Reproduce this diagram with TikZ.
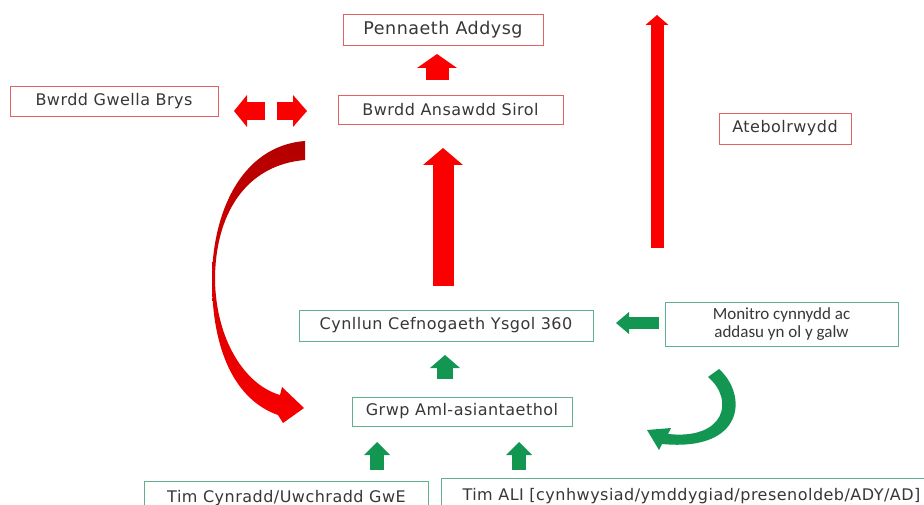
\documentclass[tikz,border=0pt]{standalone}
\usepackage{fontspec}
\setmainfont[LetterSpace=3]{DejaVu Sans}
\newfontfamily\calfont{Carlito}
\usetikzlibrary{arrows.meta}
\definecolor{boxred}{RGB}{226,98,98}
\definecolor{boxgreen}{RGB}{96,176,140}
\definecolor{arrred}{RGB}{250,0,0}
\definecolor{arrgreen}{RGB}{18,150,82}
\definecolor{txt}{RGB}{55,55,55}

\begin{document}
\begin{tikzpicture}[x=1pt,y=-1pt,
  box/.style={rectangle, draw, line width=0.9pt, fill=white, text=txt,
          inner sep=0pt, font=\fontsize{16}{18}\selectfont},
  redbox/.style={box, draw=boxred},
  greenbox/.style={box, draw=boxgreen},
  blk/.style n args={3}{line width=#1,
          -{Triangle[length=#2, width=#3, line width=0pt]}}]
\useasboundingbox (0,0) rectangle (924,505);

% red boxes
\node[redbox, minimum width=200, minimum height=31,
          font=\fontsize{17.5}{18}\selectfont] (pen) at (443,29.5) {Pennaeth Addysg};
\node[redbox, minimum width=208, minimum height=30] (gwella) at (114,101) {Bwrdd Gwella Brys};
\node[redbox, minimum width=225, minimum height=29] (ansawdd) at (450.5,109.5) {Bwrdd Ansawdd Sirol};
\node[redbox, minimum width=132, minimum height=31] (ateb) at (785,128.5) {Atebolrwydd};

% green boxes
\node[greenbox, minimum width=294, minimum height=31] (cynllun) at (446,325.5) {Cynllun Cefnogaeth Ysgol 360};
\node[greenbox, minimum width=233, minimum height=44, align=center,
          font=\calfont\fontsize{17}{18}\selectfont] (monitro) at (781.5,324)
          {Monitro cynnydd ac\\addasu yn ol y galw};
\node[greenbox, minimum width=220, minimum height=29] (grwp) at (462,411.5) {Grwp Aml-asiantaethol};
\node[greenbox, anchor=north west, minimum width=284, minimum height=34] (cynradd)
          at (144,481) {Tim Cynradd/Uwchradd GwE};
\node[greenbox, anchor=north west, minimum width=500, minimum height=36] (ali)
          at (441,478) {Tim ALI [cynhwysiad/ymddygiad/presenoldeb/ADY/AD]};

% ends of the block arrows
\coordinate (penS) at (437,80);   \coordinate (penE) at (437,54);
\coordinate (gwS) at (265,111);   \coordinate (gwE) at (234,111);
\coordinate (ansS) at (277,111);  \coordinate (ansE) at (307,111);
\coordinate (upS) at (443,286);   \coordinate (upE) at (443,148);
\coordinate (atS) at (657,248);   \coordinate (atE) at (657,15);
\coordinate (monS) at (659,323);  \coordinate (monE) at (616,323);
\coordinate (grS) at (445,379);   \coordinate (grE) at (445,355);
\coordinate (prS) at (377,470);   \coordinate (prE) at (377,442);
\coordinate (alS) at (519,470);   \coordinate (alE) at (519,442);

% red arrows
\draw[arrred, blk={23pt}{14pt}{40pt}] (penS) -- (penE);
\draw[arrred, blk={18pt}{13pt}{32pt}] (gwS) -- (gwE);
\draw[arrred, blk={18pt}{14pt}{32pt}] (ansS) -- (ansE);
\draw[arrred, blk={21pt}{17pt}{40pt}] (upS) -- (upE);
\draw[arrred, blk={13pt}{10pt}{23pt}] (atS) -- (atE);
\shade[top color=red!70!black, bottom color=arrred]
  (305,141) .. controls (240,146) and (212,215) .. (212,280)
  .. controls (212,350) and (235,400) .. (278,415)
  -- (283,423) -- (304,408) -- (282,387) -- (280,395)
  .. controls (245,385) and (216,340) .. (215,280)
  .. controls (215,215) and (245,165) .. (305,160) -- cycle;

% green arrows
\draw[arrgreen, blk={12pt}{13pt}{22pt}] (monS) -- (monE);
\draw[arrgreen, blk={16pt}{13pt}{30pt}] (grS) -- (grE);
\draw[arrgreen, blk={14pt}{13pt}{26pt}] (prS) -- (prE);
\draw[arrgreen, blk={14pt}{13pt}{26pt}] (alS) -- (alE);
\fill[arrgreen]
  (708,377) .. controls (735,400) and (725,440) .. (668,434)
  -- (671,428) -- (647,430) -- (659,450) -- (662,444)
  .. controls (745,452) and (748,395) .. (719,369) -- cycle;
\end{tikzpicture}
\end{document}
